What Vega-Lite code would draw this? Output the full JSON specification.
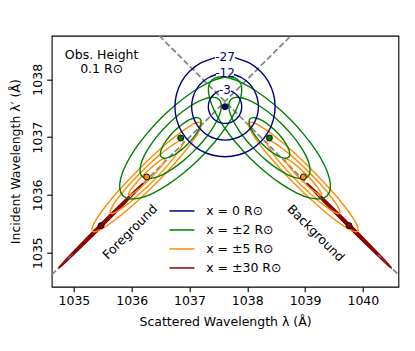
{
"$schema":"https://vega.github.io/schema/vega-lite/v6.json",
"width":346.7,"height":251,
"autosize":{"type":"none"},
"padding":{"left":51.7,"top":35.7,"right":16.6,"bottom":64.3},
"config":{
 "font":"DejaVu Sans",
 "view":{"stroke":"#000","strokeWidth":1.1},
 "axis":{"domain":false,"grid":false,"tickColor":"#000","tickSize":5,"tickWidth":1.1,"labelColor":"#000","labelFontSize":12.5,"labelPadding":3,"titleColor":"#000","titleFontSize":12.5,"titleFontWeight":"normal"},
 "axisX":{"titlePadding":8},
 "axisY":{"titlePadding":9,"labelPadding":5}
},
"datasets":{
"dash":[{"c":"a","x":1034.6155,"y":1034.6155},{"c":"a","x":1038.755,"y":1038.755},{"c":"b","x":1036.476,"y":1038.755},{"c":"b","x":1040.6155,"y":1034.6155}],
"red":[
{"c":"1L","x":1035.714,"y":1035.712},{"c":"1L","x":1035.684,"y":1035.676},{"c":"1L","x":1035.597,"y":1035.584},{"c":"1L","x":1035.475,"y":1035.461},{"c":"1L","x":1035.352,"y":1035.339},{"c":"1L","x":1035.260,"y":1035.252},{"c":"1L","x":1035.224,"y":1035.222},{"c":"1L","x":1035.254,"y":1035.258},{"c":"1L","x":1035.341,"y":1035.350},{"c":"1L","x":1035.463,"y":1035.473},{"c":"1L","x":1035.586,"y":1035.595},{"c":"1L","x":1035.678,"y":1035.682},
{"c":"1R","x":1039.517,"y":1035.712},{"c":"1R","x":1039.547,"y":1035.676},{"c":"1R","x":1039.634,"y":1035.584},{"c":"1R","x":1039.756,"y":1035.461},{"c":"1R","x":1039.879,"y":1035.339},{"c":"1R","x":1039.971,"y":1035.252},{"c":"1R","x":1040.007,"y":1035.222},{"c":"1R","x":1039.977,"y":1035.258},{"c":"1R","x":1039.890,"y":1035.350},{"c":"1R","x":1039.768,"y":1035.473},{"c":"1R","x":1039.645,"y":1035.595},{"c":"1R","x":1039.553,"y":1035.682},
{"c":"2L","x":1035.959,"y":1035.957},{"c":"2L","x":1035.899,"y":1035.885},{"c":"2L","x":1035.724,"y":1035.702},{"c":"2L","x":1035.481,"y":1035.455},{"c":"2L","x":1035.234,"y":1035.212},{"c":"2L","x":1035.051,"y":1035.037},{"c":"2L","x":1034.979,"y":1034.977},{"c":"2L","x":1035.039,"y":1035.049},{"c":"2L","x":1035.214,"y":1035.232},{"c":"2L","x":1035.457,"y":1035.479},{"c":"2L","x":1035.704,"y":1035.722},{"c":"2L","x":1035.887,"y":1035.897},
{"c":"2R","x":1039.272,"y":1035.957},{"c":"2R","x":1039.332,"y":1035.885},{"c":"2R","x":1039.507,"y":1035.702},{"c":"2R","x":1039.750,"y":1035.455},{"c":"2R","x":1039.997,"y":1035.212},{"c":"2R","x":1040.180,"y":1035.037},{"c":"2R","x":1040.252,"y":1034.977},{"c":"2R","x":1040.192,"y":1035.049},{"c":"2R","x":1040.017,"y":1035.232},{"c":"2R","x":1039.774,"y":1035.479},{"c":"2R","x":1039.527,"y":1035.722},{"c":"2R","x":1039.344,"y":1035.897},
{"c":"3L","x":1036.204,"y":1036.202},{"c":"3L","x":1036.115,"y":1036.095},{"c":"3L","x":1035.852,"y":1035.819},{"c":"3L","x":1035.487,"y":1035.449},{"c":"3L","x":1035.117,"y":1035.084},{"c":"3L","x":1034.841,"y":1034.822},{"c":"3L","x":1034.734,"y":1034.732},{"c":"3L","x":1034.823,"y":1034.840},{"c":"3L","x":1035.086,"y":1035.115},{"c":"3L","x":1035.451,"y":1035.485},{"c":"3L","x":1035.821,"y":1035.850},{"c":"3L","x":1036.097,"y":1036.113},
{"c":"3R","x":1039.027,"y":1036.202},{"c":"3R","x":1039.116,"y":1036.095},{"c":"3R","x":1039.379,"y":1035.819},{"c":"3R","x":1039.744,"y":1035.449},{"c":"3R","x":1040.114,"y":1035.084},{"c":"3R","x":1040.390,"y":1034.822},{"c":"3R","x":1040.497,"y":1034.732},{"c":"3R","x":1040.408,"y":1034.840},{"c":"3R","x":1040.145,"y":1035.115},{"c":"3R","x":1039.780,"y":1035.485},{"c":"3R","x":1039.410,"y":1035.850},{"c":"3R","x":1039.134,"y":1036.113}
],
"org":[
{"c":"1L","x":1036.573,"y":1036.623},{"c":"1L","x":1036.574,"y":1036.601},{"c":"1L","x":1036.554,"y":1036.559},{"c":"1L","x":1036.513,"y":1036.500},{"c":"1L","x":1036.456,"y":1036.428},{"c":"1L","x":1036.385,"y":1036.348},{"c":"1L","x":1036.305,"y":1036.265},{"c":"1L","x":1036.223,"y":1036.186},{"c":"1L","x":1036.143,"y":1036.115},{"c":"1L","x":1036.071,"y":1036.057},{"c":"1L","x":1036.011,"y":1036.016},{"c":"1L","x":1035.969,"y":1035.996},{"c":"1L","x":1035.947,"y":1035.997},{"c":"1L","x":1035.946,"y":1036.019},{"c":"1L","x":1035.966,"y":1036.061},{"c":"1L","x":1036.007,"y":1036.121},{"c":"1L","x":1036.065,"y":1036.193},{"c":"1L","x":1036.136,"y":1036.273},{"c":"1L","x":1036.215,"y":1036.355},{"c":"1L","x":1036.298,"y":1036.435},{"c":"1L","x":1036.378,"y":1036.506},{"c":"1L","x":1036.450,"y":1036.563},{"c":"1L","x":1036.509,"y":1036.604},{"c":"1L","x":1036.551,"y":1036.624},
{"c":"1R","x":1038.658,"y":1036.623},{"c":"1R","x":1038.657,"y":1036.601},{"c":"1R","x":1038.677,"y":1036.559},{"c":"1R","x":1038.718,"y":1036.500},{"c":"1R","x":1038.776,"y":1036.428},{"c":"1R","x":1038.847,"y":1036.348},{"c":"1R","x":1038.926,"y":1036.265},{"c":"1R","x":1039.009,"y":1036.186},{"c":"1R","x":1039.089,"y":1036.115},{"c":"1R","x":1039.161,"y":1036.057},{"c":"1R","x":1039.220,"y":1036.016},{"c":"1R","x":1039.262,"y":1035.996},{"c":"1R","x":1039.284,"y":1035.997},{"c":"1R","x":1039.285,"y":1036.019},{"c":"1R","x":1039.265,"y":1036.061},{"c":"1R","x":1039.224,"y":1036.121},{"c":"1R","x":1039.167,"y":1036.193},{"c":"1R","x":1039.096,"y":1036.273},{"c":"1R","x":1039.016,"y":1036.355},{"c":"1R","x":1038.934,"y":1036.435},{"c":"1R","x":1038.854,"y":1036.506},{"c":"1R","x":1038.782,"y":1036.563},{"c":"1R","x":1038.722,"y":1036.604},{"c":"1R","x":1038.680,"y":1036.624},
{"c":"2L","x":1036.886,"y":1036.936},{"c":"2L","x":1036.888,"y":1036.891},{"c":"2L","x":1036.847,"y":1036.807},{"c":"2L","x":1036.766,"y":1036.689},{"c":"2L","x":1036.651,"y":1036.545},{"c":"2L","x":1036.509,"y":1036.385},{"c":"2L","x":1036.350,"y":1036.220},{"c":"2L","x":1036.185,"y":1036.061},{"c":"2L","x":1036.025,"y":1035.919},{"c":"2L","x":1035.881,"y":1035.804},{"c":"2L","x":1035.763,"y":1035.723},{"c":"2L","x":1035.679,"y":1035.682},{"c":"2L","x":1035.634,"y":1035.684},{"c":"2L","x":1035.632,"y":1035.729},{"c":"2L","x":1035.673,"y":1035.813},{"c":"2L","x":1035.754,"y":1035.931},{"c":"2L","x":1035.869,"y":1036.075},{"c":"2L","x":1036.011,"y":1036.235},{"c":"2L","x":1036.170,"y":1036.400},{"c":"2L","x":1036.335,"y":1036.559},{"c":"2L","x":1036.495,"y":1036.701},{"c":"2L","x":1036.639,"y":1036.816},{"c":"2L","x":1036.757,"y":1036.897},{"c":"2L","x":1036.841,"y":1036.938},
{"c":"2R","x":1038.345,"y":1036.936},{"c":"2R","x":1038.343,"y":1036.891},{"c":"2R","x":1038.384,"y":1036.807},{"c":"2R","x":1038.465,"y":1036.689},{"c":"2R","x":1038.580,"y":1036.545},{"c":"2R","x":1038.722,"y":1036.385},{"c":"2R","x":1038.881,"y":1036.220},{"c":"2R","x":1039.046,"y":1036.061},{"c":"2R","x":1039.206,"y":1035.919},{"c":"2R","x":1039.350,"y":1035.804},{"c":"2R","x":1039.468,"y":1035.723},{"c":"2R","x":1039.552,"y":1035.682},{"c":"2R","x":1039.597,"y":1035.684},{"c":"2R","x":1039.599,"y":1035.729},{"c":"2R","x":1039.558,"y":1035.813},{"c":"2R","x":1039.477,"y":1035.931},{"c":"2R","x":1039.362,"y":1036.075},{"c":"2R","x":1039.220,"y":1036.235},{"c":"2R","x":1039.061,"y":1036.400},{"c":"2R","x":1038.896,"y":1036.559},{"c":"2R","x":1038.736,"y":1036.701},{"c":"2R","x":1038.592,"y":1036.816},{"c":"2R","x":1038.474,"y":1036.897},{"c":"2R","x":1038.390,"y":1036.938},
{"c":"3L","x":1037.199,"y":1037.249},{"c":"3L","x":1037.202,"y":1037.182},{"c":"3L","x":1037.141,"y":1037.056},{"c":"3L","x":1037.019,"y":1036.879},{"c":"3L","x":1036.847,"y":1036.663},{"c":"3L","x":1036.634,"y":1036.423},{"c":"3L","x":1036.395,"y":1036.175},{"c":"3L","x":1036.148,"y":1035.937},{"c":"3L","x":1035.908,"y":1035.724},{"c":"3L","x":1035.692,"y":1035.551},{"c":"3L","x":1035.514,"y":1035.429},{"c":"3L","x":1035.388,"y":1035.368},{"c":"3L","x":1035.321,"y":1035.371},{"c":"3L","x":1035.318,"y":1035.438},{"c":"3L","x":1035.379,"y":1035.564},{"c":"3L","x":1035.501,"y":1035.742},{"c":"3L","x":1035.674,"y":1035.958},{"c":"3L","x":1035.887,"y":1036.198},{"c":"3L","x":1036.125,"y":1036.445},{"c":"3L","x":1036.373,"y":1036.684},{"c":"3L","x":1036.613,"y":1036.897},{"c":"3L","x":1036.829,"y":1037.069},{"c":"3L","x":1037.006,"y":1037.191},{"c":"3L","x":1037.132,"y":1037.252},
{"c":"3R","x":1038.032,"y":1037.249},{"c":"3R","x":1038.029,"y":1037.182},{"c":"3R","x":1038.090,"y":1037.056},{"c":"3R","x":1038.212,"y":1036.879},{"c":"3R","x":1038.385,"y":1036.663},{"c":"3R","x":1038.598,"y":1036.423},{"c":"3R","x":1038.836,"y":1036.175},{"c":"3R","x":1039.084,"y":1035.937},{"c":"3R","x":1039.324,"y":1035.724},{"c":"3R","x":1039.540,"y":1035.551},{"c":"3R","x":1039.717,"y":1035.429},{"c":"3R","x":1039.843,"y":1035.368},{"c":"3R","x":1039.910,"y":1035.371},{"c":"3R","x":1039.913,"y":1035.438},{"c":"3R","x":1039.852,"y":1035.564},{"c":"3R","x":1039.730,"y":1035.742},{"c":"3R","x":1039.558,"y":1035.958},{"c":"3R","x":1039.345,"y":1036.198},{"c":"3R","x":1039.106,"y":1036.445},{"c":"3R","x":1038.859,"y":1036.684},{"c":"3R","x":1038.619,"y":1036.897},{"c":"3R","x":1038.403,"y":1037.069},{"c":"3R","x":1038.225,"y":1037.191},{"c":"3R","x":1038.099,"y":1037.252}
],
"grn":[
{"c":"1L","x":1037.181,"y":1037.318},{"c":"1L","x":1037.200,"y":1037.278},{"c":"1L","x":1037.194,"y":1037.217},{"c":"1L","x":1037.164,"y":1037.140},{"c":"1L","x":1037.113,"y":1037.053},{"c":"1L","x":1037.044,"y":1036.961},{"c":"1L","x":1036.962,"y":1036.871},{"c":"1L","x":1036.872,"y":1036.789},{"c":"1L","x":1036.780,"y":1036.720},{"c":"1L","x":1036.693,"y":1036.669},{"c":"1L","x":1036.616,"y":1036.639},{"c":"1L","x":1036.556,"y":1036.634},{"c":"1L","x":1036.515,"y":1036.652},{"c":"1L","x":1036.497,"y":1036.693},{"c":"1L","x":1036.502,"y":1036.753},{"c":"1L","x":1036.532,"y":1036.830},{"c":"1L","x":1036.583,"y":1036.917},{"c":"1L","x":1036.652,"y":1037.009},{"c":"1L","x":1036.734,"y":1037.099},{"c":"1L","x":1036.824,"y":1037.181},{"c":"1L","x":1036.916,"y":1037.250},{"c":"1L","x":1037.003,"y":1037.301},{"c":"1L","x":1037.080,"y":1037.331},{"c":"1L","x":1037.141,"y":1037.337},
{"c":"1R","x":1038.050,"y":1037.318},{"c":"1R","x":1038.032,"y":1037.278},{"c":"1R","x":1038.037,"y":1037.217},{"c":"1R","x":1038.067,"y":1037.140},{"c":"1R","x":1038.118,"y":1037.053},{"c":"1R","x":1038.187,"y":1036.961},{"c":"1R","x":1038.269,"y":1036.871},{"c":"1R","x":1038.359,"y":1036.789},{"c":"1R","x":1038.451,"y":1036.720},{"c":"1R","x":1038.538,"y":1036.669},{"c":"1R","x":1038.615,"y":1036.639},{"c":"1R","x":1038.676,"y":1036.634},{"c":"1R","x":1038.716,"y":1036.652},{"c":"1R","x":1038.735,"y":1036.693},{"c":"1R","x":1038.729,"y":1036.753},{"c":"1R","x":1038.699,"y":1036.830},{"c":"1R","x":1038.648,"y":1036.917},{"c":"1R","x":1038.579,"y":1037.009},{"c":"1R","x":1038.497,"y":1037.099},{"c":"1R","x":1038.407,"y":1037.181},{"c":"1R","x":1038.315,"y":1037.250},{"c":"1R","x":1038.228,"y":1037.301},{"c":"1R","x":1038.151,"y":1037.331},{"c":"1R","x":1038.091,"y":1037.337},
{"c":"2L","x":1037.515,"y":1037.652},{"c":"2L","x":1037.551,"y":1037.570},{"c":"2L","x":1037.539,"y":1037.448},{"c":"2L","x":1037.481,"y":1037.295},{"c":"2L","x":1037.379,"y":1037.121},{"c":"2L","x":1037.241,"y":1036.937},{"c":"2L","x":1037.076,"y":1036.757},{"c":"2L","x":1036.896,"y":1036.592},{"c":"2L","x":1036.712,"y":1036.454},{"c":"2L","x":1036.538,"y":1036.352},{"c":"2L","x":1036.385,"y":1036.294},{"c":"2L","x":1036.263,"y":1036.282},{"c":"2L","x":1036.181,"y":1036.318},{"c":"2L","x":1036.145,"y":1036.400},{"c":"2L","x":1036.157,"y":1036.522},{"c":"2L","x":1036.215,"y":1036.675},{"c":"2L","x":1036.317,"y":1036.849},{"c":"2L","x":1036.455,"y":1037.033},{"c":"2L","x":1036.620,"y":1037.213},{"c":"2L","x":1036.800,"y":1037.378},{"c":"2L","x":1036.984,"y":1037.516},{"c":"2L","x":1037.158,"y":1037.618},{"c":"2L","x":1037.311,"y":1037.676},{"c":"2L","x":1037.433,"y":1037.688},
{"c":"2R","x":1037.716,"y":1037.652},{"c":"2R","x":1037.680,"y":1037.570},{"c":"2R","x":1037.692,"y":1037.448},{"c":"2R","x":1037.750,"y":1037.295},{"c":"2R","x":1037.852,"y":1037.121},{"c":"2R","x":1037.990,"y":1036.937},{"c":"2R","x":1038.155,"y":1036.757},{"c":"2R","x":1038.335,"y":1036.592},{"c":"2R","x":1038.519,"y":1036.454},{"c":"2R","x":1038.693,"y":1036.352},{"c":"2R","x":1038.846,"y":1036.294},{"c":"2R","x":1038.968,"y":1036.282},{"c":"2R","x":1039.050,"y":1036.318},{"c":"2R","x":1039.086,"y":1036.400},{"c":"2R","x":1039.074,"y":1036.522},{"c":"2R","x":1039.016,"y":1036.675},{"c":"2R","x":1038.914,"y":1036.849},{"c":"2R","x":1038.776,"y":1037.033},{"c":"2R","x":1038.611,"y":1037.213},{"c":"2R","x":1038.431,"y":1037.378},{"c":"2R","x":1038.247,"y":1037.516},{"c":"2R","x":1038.073,"y":1037.618},{"c":"2R","x":1037.920,"y":1037.676},{"c":"2R","x":1037.798,"y":1037.688},
{"c":"3L","x":1037.848,"y":1037.985},{"c":"3L","x":1037.903,"y":1037.863},{"c":"3L","x":1037.885,"y":1037.680},{"c":"3L","x":1037.797,"y":1037.450},{"c":"3L","x":1037.644,"y":1037.189},{"c":"3L","x":1037.437,"y":1036.914},{"c":"3L","x":1037.190,"y":1036.643},{"c":"3L","x":1036.919,"y":1036.396},{"c":"3L","x":1036.644,"y":1036.189},{"c":"3L","x":1036.383,"y":1036.036},{"c":"3L","x":1036.153,"y":1035.948},{"c":"3L","x":1035.971,"y":1035.931},{"c":"3L","x":1035.848,"y":1035.985},{"c":"3L","x":1035.794,"y":1036.108},{"c":"3L","x":1035.811,"y":1036.290},{"c":"3L","x":1035.899,"y":1036.520},{"c":"3L","x":1036.052,"y":1036.781},{"c":"3L","x":1036.259,"y":1037.056},{"c":"3L","x":1036.506,"y":1037.327},{"c":"3L","x":1036.777,"y":1037.574},{"c":"3L","x":1037.052,"y":1037.781},{"c":"3L","x":1037.313,"y":1037.934},{"c":"3L","x":1037.543,"y":1038.022},{"c":"3L","x":1037.726,"y":1038.040},
{"c":"3R","x":1037.383,"y":1037.985},{"c":"3R","x":1037.329,"y":1037.863},{"c":"3R","x":1037.346,"y":1037.680},{"c":"3R","x":1037.434,"y":1037.450},{"c":"3R","x":1037.587,"y":1037.189},{"c":"3R","x":1037.794,"y":1036.914},{"c":"3R","x":1038.041,"y":1036.643},{"c":"3R","x":1038.312,"y":1036.396},{"c":"3R","x":1038.587,"y":1036.189},{"c":"3R","x":1038.848,"y":1036.036},{"c":"3R","x":1039.078,"y":1035.948},{"c":"3R","x":1039.261,"y":1035.931},{"c":"3R","x":1039.383,"y":1035.985},{"c":"3R","x":1039.438,"y":1036.108},{"c":"3R","x":1039.420,"y":1036.290},{"c":"3R","x":1039.332,"y":1036.520},{"c":"3R","x":1039.179,"y":1036.781},{"c":"3R","x":1038.972,"y":1037.056},{"c":"3R","x":1038.725,"y":1037.327},{"c":"3R","x":1038.454,"y":1037.574},{"c":"3R","x":1038.179,"y":1037.781},{"c":"3R","x":1037.918,"y":1037.934},{"c":"3R","x":1037.688,"y":1038.022},{"c":"3R","x":1037.505,"y":1038.040}
],
"cir":[
{"c":"a3","x":1037.442,"y":1038.376},{"c":"a3","x":1037.182,"y":1038.277},{"c":"a3","x":1037.002,"y":1038.139},{"c":"a3","x":1036.864,"y":1037.960},{"c":"a3","x":1036.778,"y":1037.750},{"c":"a3","x":1036.748,"y":1037.526},{"c":"a3","x":1036.778,"y":1037.302},{"c":"a3","x":1036.864,"y":1037.093},{"c":"a3","x":1037.002,"y":1036.913},{"c":"a3","x":1037.182,"y":1036.775},{"c":"a3","x":1037.391,"y":1036.689},{"c":"a3","x":1037.615,"y":1036.659},{"c":"a3","x":1037.839,"y":1036.689},{"c":"a3","x":1038.049,"y":1036.775},{"c":"a3","x":1038.228,"y":1036.913},{"c":"a3","x":1038.366,"y":1037.093},{"c":"a3","x":1038.452,"y":1037.302},{"c":"a3","x":1038.482,"y":1037.526},{"c":"a3","x":1038.452,"y":1037.750},{"c":"a3","x":1038.366,"y":1037.960},{"c":"a3","x":1038.228,"y":1038.139},{"c":"a3","x":1038.049,"y":1038.277},{"c":"a3","x":1037.788,"y":1038.376},
{"c":"a2","x":1037.460,"y":1038.083},{"c":"a2","x":1037.326,"y":1038.027},{"c":"a2","x":1037.206,"y":1037.935},{"c":"a2","x":1037.114,"y":1037.815},{"c":"a2","x":1037.057,"y":1037.676},{"c":"a2","x":1037.037,"y":1037.526},{"c":"a2","x":1037.057,"y":1037.376},{"c":"a2","x":1037.114,"y":1037.237},{"c":"a2","x":1037.206,"y":1037.117},{"c":"a2","x":1037.326,"y":1037.025},{"c":"a2","x":1037.465,"y":1036.968},{"c":"a2","x":1037.615,"y":1036.948},{"c":"a2","x":1037.765,"y":1036.968},{"c":"a2","x":1037.904,"y":1037.025},{"c":"a2","x":1038.024,"y":1037.117},{"c":"a2","x":1038.116,"y":1037.237},{"c":"a2","x":1038.173,"y":1037.376},{"c":"a2","x":1038.193,"y":1037.526},{"c":"a2","x":1038.173,"y":1037.676},{"c":"a2","x":1038.116,"y":1037.815},{"c":"a2","x":1038.024,"y":1037.935},{"c":"a2","x":1037.904,"y":1038.027},{"c":"a2","x":1037.770,"y":1038.083},
{"c":"a1","x":1037.511,"y":1037.796},{"c":"a1","x":1037.471,"y":1037.776},{"c":"a1","x":1037.411,"y":1037.730},{"c":"a1","x":1037.365,"y":1037.671},{"c":"a1","x":1037.336,"y":1037.601},{"c":"a1","x":1037.326,"y":1037.526},{"c":"a1","x":1037.336,"y":1037.451},{"c":"a1","x":1037.365,"y":1037.381},{"c":"a1","x":1037.411,"y":1037.322},{"c":"a1","x":1037.471,"y":1037.276},{"c":"a1","x":1037.540,"y":1037.247},{"c":"a1","x":1037.615,"y":1037.237},{"c":"a1","x":1037.690,"y":1037.247},{"c":"a1","x":1037.760,"y":1037.276},{"c":"a1","x":1037.819,"y":1037.322},{"c":"a1","x":1037.865,"y":1037.381},{"c":"a1","x":1037.894,"y":1037.451},{"c":"a1","x":1037.904,"y":1037.526},{"c":"a1","x":1037.894,"y":1037.601},{"c":"a1","x":1037.865,"y":1037.671},{"c":"a1","x":1037.819,"y":1037.730},{"c":"a1","x":1037.760,"y":1037.776},{"c":"a1","x":1037.719,"y":1037.796}
],
"dots":[{"s":"0","x":1037.615,"y":1037.526},{"s":"2","x":1036.848,"y":1036.985},{"s":"2","x":1038.383,"y":1036.985},{"s":"5","x":1036.260,"y":1036.310},{"s":"5","x":1038.971,"y":1036.310},{"s":"30","x":1035.469,"y":1035.467},{"s":"30","x":1039.762,"y":1035.467}],
"notes":[{"t":"Obs. Height","x":1035.48,"y":1038.42},{"t":"0.1 R⊙","x":1035.48,"y":1038.17}],
"clab":[{"t":"-3","x":1037.615,"y":1037.815},{"t":"-12","x":1037.615,"y":1038.104},{"t":"-27","x":1037.615,"y":1038.393}],
"fg":[{"t":"Foreground","x":1035.971,"y":1035.358}],
"bg":[{"t":"Background","x":1039.185,"y":1035.335}]
},
"encoding":{
 "x":{"field":"x","type":"quantitative","scale":{"domain":[1034.6155,1040.6155],"nice":false,"zero":false},"axis":{"values":[1035,1036,1037,1038,1039,1040],"format":"d","title":"Scattered Wavelength λ (Å)"}},
 "y":{"field":"y","type":"quantitative","scale":{"domain":[1034.41,1038.755],"nice":false,"zero":false},"axis":{"values":[1035,1036,1037,1038],"format":"d","labelAngle":-90,"labelAlign":"center","labelBaseline":"alphabetic","title":"Incident Wavelength λ′ (Å)"}}
},
"layer":[
 {"data":{"name":"dash"},"mark":{"type":"line","color":"#888888","strokeWidth":1.8,"strokeDash":[6,2.7],"clip":true},"encoding":{"detail":{"field":"c"},"order":{"value":null}}},
 {"data":{"name":"red"},"mark":{"type":"line","interpolate":"cardinal-closed","strokeWidth":1.4,"clip":true},
  "encoding":{"detail":{"field":"c"},"order":{"value":null},
   "color":{"datum":"x = ±30 R⊙","type":"nominal","scale":{"domain":["x = 0 R⊙","x = ±2 R⊙","x = ±5 R⊙","x = ±30 R⊙"],"range":["#000080","#008000","#ff8c00","#8b0000"]},
    "legend":{"orient":"none","legendX":124,"legendY":169,"title":null,"symbolType":"M-2.5,0H2.5","symbolSize":100,"symbolStrokeWidth":1.5,"labelFontSize":12.5,"labelColor":"#000","labelOffset":18,"rowPadding":6,"padding":0}}}},
 {"data":{"name":"org"},"mark":{"type":"line","interpolate":"cardinal-closed","strokeWidth":1.4,"clip":true},
  "encoding":{"detail":{"field":"c"},"order":{"value":null},"color":{"datum":"x = ±5 R⊙","type":"nominal"}}},
 {"data":{"name":"grn"},"mark":{"type":"line","interpolate":"cardinal-closed","strokeWidth":1.4,"clip":true},
  "encoding":{"detail":{"field":"c"},"order":{"value":null},"color":{"datum":"x = ±2 R⊙","type":"nominal"}}},
 {"data":{"name":"cir"},"mark":{"type":"line","interpolate":"cardinal","strokeWidth":1.4,"clip":true},
  "encoding":{"detail":{"field":"c"},"order":{"value":null},"color":{"datum":"x = 0 R⊙","type":"nominal"}}},
 {"data":{"name":"dots"},"mark":{"type":"point","filled":true,"size":36,"stroke":"#000","strokeWidth":0.9,"opacity":1},
  "encoding":{"fill":{"field":"s","type":"nominal","scale":{"domain":["0","2","5","30"],"range":["#000080","#008000","#ff8c00","#8b0000"]},"legend":null}}},
 {"data":{"name":"notes"},"mark":{"type":"text","fontSize":12.5,"color":"#000","align":"center","baseline":"middle"},"encoding":{"text":{"field":"t"}}},
 {"data":{"name":"clab"},"mark":{"type":"text","fontSize":12,"color":"#000080","align":"center","baseline":"middle"},"encoding":{"text":{"field":"t"}}},
 {"data":{"name":"fg"},"mark":{"type":"text","fontSize":12.5,"color":"#000","align":"center","baseline":"middle","angle":-45},"encoding":{"text":{"field":"t"}}},
 {"data":{"name":"bg"},"mark":{"type":"text","fontSize":12.5,"color":"#000","align":"center","baseline":"middle","angle":45},"encoding":{"text":{"field":"t"}}}
]
}
